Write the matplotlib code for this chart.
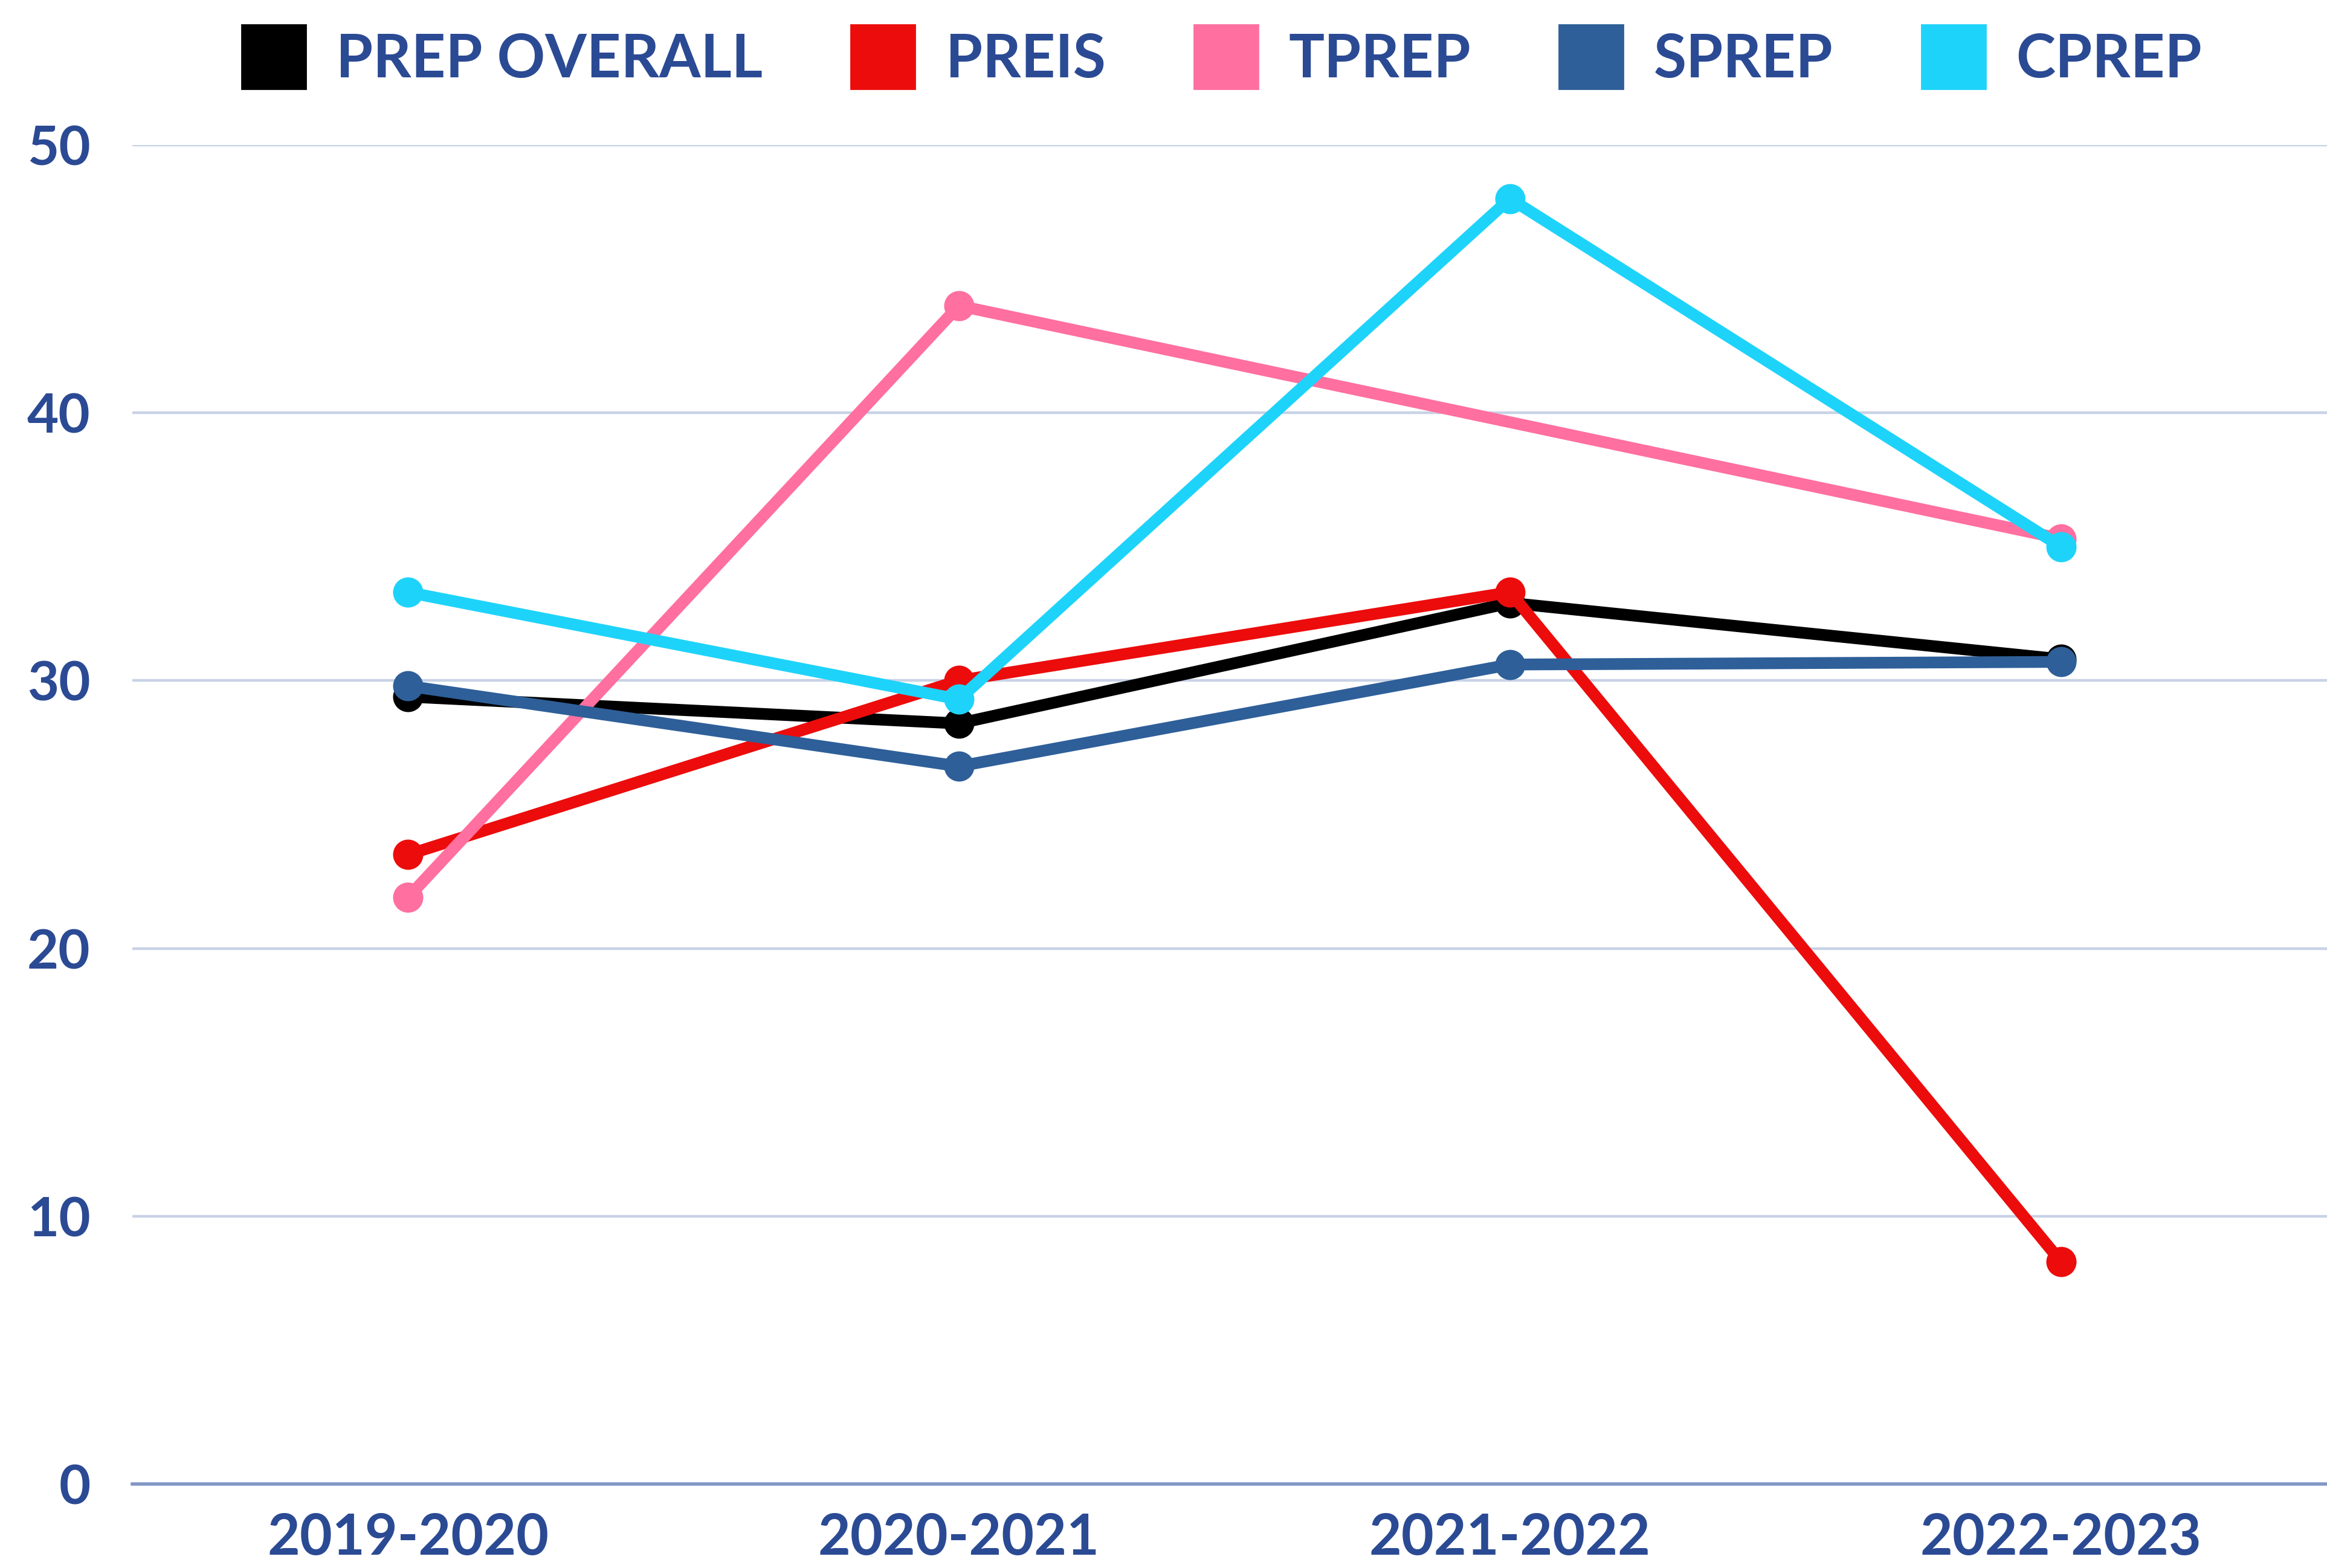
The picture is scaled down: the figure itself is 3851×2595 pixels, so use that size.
import matplotlib
matplotlib.use('Agg')
import matplotlib.pyplot as plt
import numpy as np
from matplotlib.lines import Line2D

plt.rcParams['font.family'] = ['Lato', 'DejaVu Sans']

years = ['2019-2020', '2020-2021', '2021-2022', '2022-2023']

prep_overall = [29.4, 28.4, 32.9, 30.8]
preis = [23.5, 30.0, 33.3, 8.3]
tprep = [21.9, 44.0, np.nan, 35.3]   # sem valor em 2021-2022
sprep = [29.8, 26.8, 30.6, 30.7]
cprep = [33.3, 29.3, 48.0, 35.0]

series_names = ['PREP OVERALL', 'PREIS', 'TPREP', 'SPREP', 'CPREP']
series_vals = [prep_overall, preis, tprep, sprep, cprep]
series_colors = ['#000000', '#EC0C0C', '#FF6F9F', '#2E5F99', '#1ED3FA']

TXT = '#2B4A94'

fig = plt.figure(figsize=(19.255, 12.975), dpi=200)
ax = fig.add_axes([0.0569, 0.0536, 0.9472, 0.8539])

x = np.arange(len(years))
for i, (name, vals, col) in enumerate(zip(series_names, series_vals, series_colors)):
    v = np.array(vals, dtype=float)
    m = ~np.isnan(v)
    # linha ligando so os pontos com valor (TPREP pula 2021-2022)
    ax.plot(x[m], v[m], '-o', color=col, lw=7.0, ms=17, zorder=3 + i,
            clip_on=False, solid_capstyle='round')

ax.set_xlim(-0.5, 3.5)
ax.set_ylim(0, 50)
ax.set_yticks([0, 10, 20, 30, 40, 50])
ax.set_xticks(x)
ax.set_xticklabels(years)

ax.grid(axis='y', color='#C8D2E6', lw=1.6)
ax.set_axisbelow(True)
for s in ['top', 'right', 'left']:
    ax.spines[s].set_visible(False)
ax.spines['bottom'].set_color('#8197C6')
ax.spines['bottom'].set_linewidth(2.0)
ax.spines['bottom'].set_zorder(2)

ax.tick_params(axis='both', length=0, labelcolor=TXT)
ax.tick_params(axis='y', pad=25, labelsize=32.5)
ax.tick_params(axis='x', pad=17, labelsize=33.5)
for lab in ax.get_xticklabels() + ax.get_yticklabels():
    lab.set_fontweight('bold')

handles = [Line2D([], [], ls='none', marker='s', ms=38, color=c) for c in series_colors]
leg = fig.legend(handles, series_names, loc='center', bbox_to_anchor=(0.5255, 0.9615),
                 ncol=5, frameon=False, handlelength=1.0, handletextpad=0.55,
                 columnspacing=1.52, prop={'size': 35.5, 'weight': 'bold'})
for t in leg.get_texts():
    t.set_color(TXT)

fig.savefig('out.png', dpi=200)
